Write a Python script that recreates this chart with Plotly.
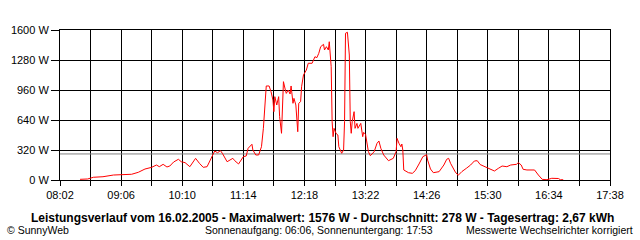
import plotly.graph_objects as go

# time in minutes since midnight, power in W
minutes = [503, 511, 517, 527, 538, 557, 564, 571, 578, 583, 586, 590, 594, 597, 601, 606, 609, 613, 618, 622,
           624, 628, 632, 636, 641, 644, 647, 650, 652, 655, 657, 660, 663, 665, 669, 674, 677, 679, 683, 684,
           687, 690, 693, 695, 697, 698, 701, 703, 705, 706, 707, 709, 711, 712, 714, 716, 718, 719, 721, 723,
           724, 726, 727, 729, 731, 732, 734, 735, 737, 740, 742, 746, 749, 751, 753, 755, 758, 759, 761, 763,
           764, 766, 767, 768, 769, 771, 773, 774, 777, 779, 780, 781, 783, 785, 786, 787, 788, 790, 791, 793,
           794, 797, 799, 800, 802, 803, 805, 807, 811, 814, 816, 818, 821, 826, 831, 834, 835, 837, 839, 840,
           841, 842, 847, 851, 854, 858, 862, 866, 867, 870, 873, 879, 884, 887, 889, 891, 896, 899, 903, 908,
           912, 916, 919, 922, 927, 931, 937, 941, 945, 950, 954, 960, 962, 965, 967, 971, 979, 983, 987, 992,
           997, 1004, 1006, 1009]
power = [7, 11, 29, 35, 53, 61, 82, 117, 135, 160, 142, 167, 139, 149, 192, 221, 195, 185, 142, 195,
         231, 178, 135, 142, 249, 309, 291, 313, 285, 231, 195, 213, 231, 206, 171, 249, 256, 338, 381, 320,
         267, 267, 355, 551, 818, 1003, 1003, 942, 853, 729, 889, 800, 889, 676, 498, 1049, 960, 924, 960, 917,
         1003, 818, 871, 800, 515, 818, 836, 995, 1120, 1173, 1245, 1245, 1315, 1305, 1351, 1422, 1447, 1387, 1422, 1387,
         1475, 1209, 622, 462, 551, 498, 480, 355, 285, 320, 622, 1565, 1576, 1333, 622, 498, 622, 729, 551, 604,
         551, 604, 462, 508, 487, 409, 302, 259, 302, 391, 416, 338, 267, 206, 231, 302, 444, 391, 355, 384,
         320, 107, 78, 71, 99, 171, 249, 270, 213, 117, 78, 89, 160, 221, 231, 178, 85, 50, 91, 128,
         160, 203, 206, 165, 142, 124, 96, 124, 149, 142, 160, 167, 185, 160, 114, 107, 107, 53, 7, 3,
         18, 16, 3, 3]
average = 278

tick_minutes = list(range(482, 1059, 32))
tick_labels = [f"{m // 60:02d}:{m % 60:02d}" if (m - 482) % 64 == 0 else "" for m in tick_minutes]
y_ticks = [0, 320, 640, 960, 1280, 1600]
y_labels = [f"{v} W" for v in y_ticks]

title_text = "Leistungsverlauf vom 16.02.2005 - Maximalwert: 1576 W - Durchschnitt: 278 W - Tagesertrag: 2,67 kWh"
footer_left = "© SunnyWeb"
footer_mid = "Sonnenaufgang: 06:06, Sonnenuntergang: 17:53"
footer_right = "Messwerte Wechselrichter korrigiert"

FONT = "Liberation Sans, Arial, sans-serif"

fig = go.Figure()
fig.add_trace(go.Scatter(x=[482, 1058], y=[average, average], mode="lines",
                         line=dict(color="#808080", width=1), hoverinfo="skip"))
fig.add_trace(go.Scatter(x=minutes, y=power, mode="lines",
                         line=dict(color="#ff0000", width=1)))

fig.update_layout(
    width=640, height=240,
    margin=dict(l=60, r=30, t=30, b=60),
    paper_bgcolor="white", plot_bgcolor="white",
    showlegend=False,
    font=dict(family=FONT, size=11, color="black"),
    xaxis=dict(range=[482, 1058], tickmode="array", tickvals=tick_minutes, ticktext=tick_labels,
               showgrid=True, gridcolor="black", gridwidth=1, zeroline=False,
               showline=True, linecolor="black", linewidth=1, mirror=True,
               ticks="outside", ticklen=5, tickcolor="black", tickfont=dict(size=11)),
    yaxis=dict(range=[0, 1600], tickmode="array", tickvals=y_ticks, ticktext=y_labels,
               showgrid=True, gridcolor="black", gridwidth=1, zeroline=False,
               showline=True, linecolor="black", linewidth=1, mirror=True,
               ticks="outside", ticklen=8, tickcolor="black", tickfont=dict(size=11)),
)

def px_to_paper_x(px):
    return (px - 60) / 550

def px_to_paper_y(py):
    return (180 - py) / 150

fig.add_annotation(text="<b>" + title_text + "</b>", xref="paper", yref="paper",
                   x=px_to_paper_x(322), y=px_to_paper_y(217.5), xanchor="center", yanchor="middle",
                   showarrow=False, font=dict(family=FONT, size=12, color="black"))
fig.add_annotation(text=footer_left, xref="paper", yref="paper",
                   x=px_to_paper_x(5), y=px_to_paper_y(230), xanchor="left", yanchor="middle",
                   showarrow=False, font=dict(family=FONT, size=10.5, color="black"))
fig.add_annotation(text=footer_mid, xref="paper", yref="paper",
                   x=px_to_paper_x(203), y=px_to_paper_y(230), xanchor="left", yanchor="middle",
                   showarrow=False, font=dict(family=FONT, size=10.5, color="black"))
fig.add_annotation(text=footer_right, xref="paper", yref="paper",
                   x=px_to_paper_x(635), y=px_to_paper_y(230), xanchor="right", yanchor="middle",
                   showarrow=False, font=dict(family=FONT, size=10.5, color="black"))

fig.write_html("out.html")
